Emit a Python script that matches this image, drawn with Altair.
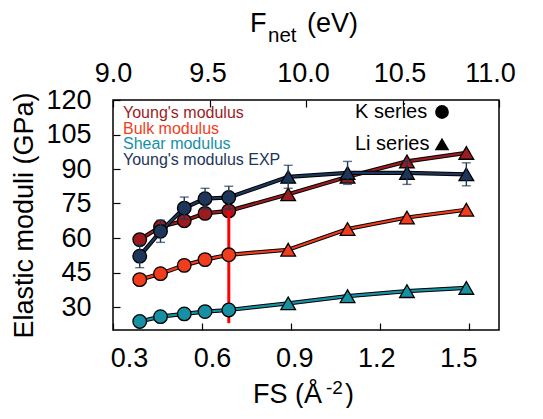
import altair as alt
import pandas as pd

# ---------------- data ----------------
fs = [0.39, 0.46, 0.54, 0.61, 0.69, 0.89, 1.09, 1.29, 1.49]
kind = ["K", "K", "K", "K", "K", "Li", "Li", "Li", "Li"]
young = [59.3, 64.9, 67.5, 70.7, 71.8, 79.0, 86.6, 93.3, 97.0]
bulk = [41.9, 44.5, 48.1, 50.6, 52.7, 54.9, 63.9, 68.9, 72.3]
shear = [23.7, 25.8, 27.0, 28.0, 28.7, 31.6, 34.7, 36.9, 38.3]
young_exp = [52.1, 62.9, 73.0, 77.1, 77.6, 86.6, 88.3, 88.3, 87.7]
young_exp_err = [5.0, 4.8, 4.8, 4.5, 4.9, 5.0, 5.0, 5.0, 5.0]

fs_ticks = [0.3, 0.6, 0.9, 1.2, 1.5]
fnet_ticks = [9.0, 9.5, 10.0, 10.5, 11.0]
y_ticks = [30, 45, 60, 75, 90, 105, 120]

legend_labels = ["Young's modulus", "Bulk modulus", "Shear modulus", "Young's modulus EXP"]
series_colors = ["#9b1b1e", "#f23d1d", "#1690a3", "#1d3659"]
marker_labels = ["K series", "Li series"]

vline_fs = [0.69]
vline_lo = [23.0]
vline_hi = [71.8]

df = pd.DataFrame({
    "fs": fs, "kind": kind, "young": young, "bulk": bulk,
    "shear": shear, "exp": young_exp, "err": young_exp_err,
})
df["lo"] = df["exp"] - df["err"]
df["hi"] = df["exp"] + df["err"]

FONT = "Liberation Sans"

# label nudges (style only) to mimic the reference's slightly compressed tick labels
bottom_label_offset = {
    "condition": [
        {"test": "abs(datum.value - 0.3) < 0.01", "value": 16},
        {"test": "abs(datum.value - 0.6) < 0.01", "value": 10},
        {"test": "abs(datum.value - 0.9) < 0.01", "value": 3},
        {"test": "abs(datum.value - 1.2) < 0.01", "value": -4},
        {"test": "abs(datum.value - 1.5) < 0.01", "value": -11},
    ],
    "value": 0,
}
top_label_offset = {
    "condition": [
        {"test": "abs(datum.value - 9.5) < 0.01", "value": -2},
        {"test": "abs(datum.value - 10.0) < 0.01", "value": -3},
        {"test": "abs(datum.value - 10.5) < 0.01", "value": -3},
        {"test": "abs(datum.value - 11.0) < 0.01", "value": -9},
    ],
    "value": 0,
}

x_scale = alt.Scale(domain=[0.3, 1.6], nice=False, zero=False)
y_scale = alt.Scale(domain=[20, 120], nice=False, zero=False)
x_axis = alt.Axis(values=fs_ticks, format=".1f", title=None, orient="bottom",
                  offset=-7, tickSize=7, domain=False, labelPadding=15,
                  labelFlush=False, labelOffset=bottom_label_offset,
                  labelFontSize=27, labelFont=FONT, labelColor="black",
                  tickColor="black", tickWidth=1.2, grid=False)
y_axis = alt.Axis(values=y_ticks, title="Elastic moduli (GPa)", offset=-7, tickSize=7,
                  domain=False, labelPadding=22, labelFontSize=27, labelFont=FONT,
                  labelColor="black", tickColor="black", tickWidth=1.2, grid=False,
                  titleFont=FONT, titleFontSize=27, titleFontWeight="normal",
                  titleColor="black", titlePadding=7)
shape_scale = alt.Scale(domain=["K", "Li"], range=["circle", "triangle-up"])
size_scale = alt.Scale(domain=["K", "Li"], range=[185, 215])


def X():
    return alt.X("fs:Q", scale=x_scale, axis=x_axis)


def Y(field):
    return alt.Y(f"{field}:Q", scale=y_scale, axis=y_axis)


base = alt.Chart(df)


def series(field, color):
    outline = base.mark_line(color="black", strokeWidth=4.2).encode(x=X(), y=Y(field))
    line = base.mark_line(color=color, strokeWidth=2.2).encode(x=X(), y=Y(field))
    pts = base.mark_point(filled=True, color=color, stroke="black", strokeWidth=1.3,
                          opacity=1).encode(
        x=X(), y=Y(field),
        shape=alt.Shape("kind:N", scale=shape_scale, legend=None),
        size=alt.Size("kind:N", scale=size_scale, legend=None),
    )
    return [outline, line, pts]


vdf = pd.DataFrame({"fs": vline_fs, "lo": vline_lo, "hi": vline_hi})
vline = alt.Chart(vdf).mark_rule(color="#ff0000", strokeWidth=3).encode(
    x=X(), y=Y("lo"), y2="hi:Q")

navy = series_colors[3]
err_rule = base.mark_rule(color=navy, strokeWidth=1.4).encode(x=X(), y=Y("lo"), y2="hi:Q")
cap_lo = base.mark_tick(orient="horizontal", size=9, thickness=1.4, color=navy).encode(x=X(), y=Y("lo"))
cap_hi = base.mark_tick(orient="horizontal", size=9, thickness=1.4, color=navy).encode(x=X(), y=Y("hi"))

layers = []
layers += series("young", series_colors[0])
layers.append(vline)
layers += series("bulk", series_colors[1])
layers += series("shear", series_colors[2])
layers += series("exp", series_colors[3])
layers += [err_rule, cap_lo, cap_hi]

# in-plot legend
for i, (lab, col) in enumerate(zip(legend_labels, series_colors)):
    layers.append(
        alt.Chart(pd.DataFrame({"t": [lab]})).mark_text(
            align="left", baseline="middle", font=FONT, fontSize=16, color=col
        ).encode(x=alt.value(10), y=alt.value(12.7 + 15.8 * i), text="t:N")
    )

marker_shapes = ["circle", "triangle-up"]
marker_sizes = [190, 215]
for i, (lab, shp, sz) in enumerate(zip(marker_labels, marker_shapes, marker_sizes)):
    yy = 12 + 32 * i
    layers.append(
        alt.Chart(pd.DataFrame({"t": [lab]})).mark_text(
            align="left", baseline="middle", font=FONT, fontSize=20, color="black"
        ).encode(x=alt.value(242), y=alt.value(yy), text="t:N")
    )
    layers.append(
        alt.Chart(pd.DataFrame({"t": [lab]})).mark_point(
            shape=shp, filled=True, color="black", size=sz, opacity=1
        ).encode(x=alt.value(329), y=alt.value(yy))
    )

# axis titles with sub/superscripts
title_parts = [
    ("F", 137, -68, 27),
    ("net", 155, -58, 20.5),
    ("(eV)", 194, -68, 27),
    ("FS (Å", 140, 303, 27),
    ("-2", 213, 294, 19),
    (")", 232, 303, 27),
]
for txt, xx, yy, fsz in title_parts:
    layers.append(
        alt.Chart(pd.DataFrame({"t": [txt]})).mark_text(
            align="left", baseline="alphabetic", font=FONT, fontSize=fsz, color="black"
        ).encode(x=alt.value(xx), y=alt.value(yy), text="t:N")
    )

main = alt.layer(*layers)

top = alt.Chart(pd.DataFrame({"fnet": fnet_ticks})).mark_point(opacity=0).encode(
    x=alt.X("fnet:Q", scale=alt.Scale(domain=[9.0, 11.0], nice=False, zero=False),
            axis=alt.Axis(orient="top", values=fnet_ticks, format=".1f", title=None,
                          offset=-7, tickSize=7, domain=False, labelPadding=13,
                          labelFlush=False, labelOffset=top_label_offset,
                          labelFontSize=27, labelFont=FONT, labelColor="black",
                          tickColor="black", tickWidth=1.2, grid=False)),
    y=alt.value(0),
)

chart = alt.layer(main, top).resolve_scale(x="independent").properties(
    width=386, height=230,
    autosize=alt.AutoSizeParams(type="none"),
    padding={"left": 105, "top": 92, "right": 30, "bottom": 78},
).configure_view(stroke="black", strokeWidth=1.5)

chart.save("out.html", embed_options={"renderer": "svg", "actions": False})
